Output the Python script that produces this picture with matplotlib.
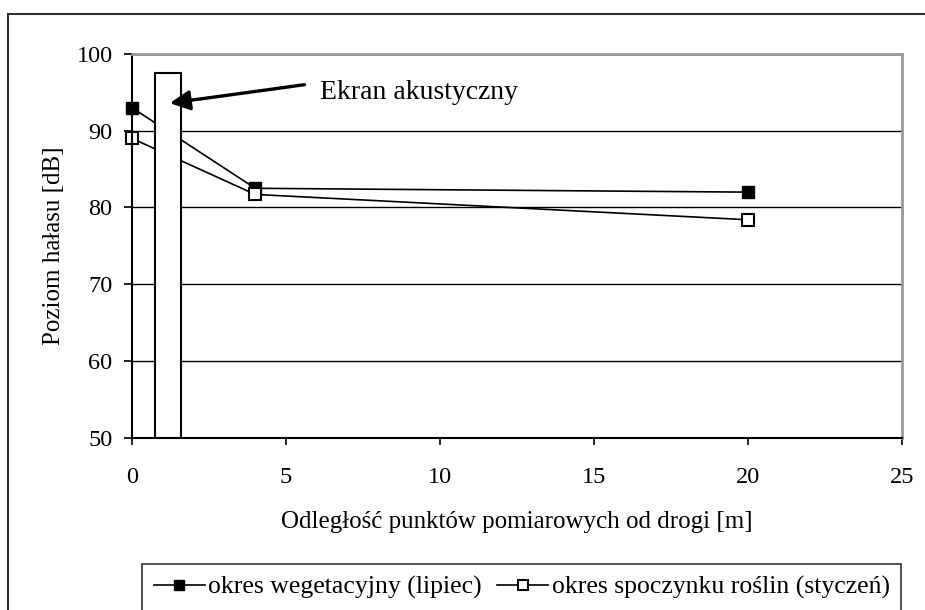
import matplotlib
matplotlib.use("Agg")
import matplotlib.pyplot as plt
from matplotlib.patches import Rectangle

plt.rcParams['font.family'] = ['Liberation Serif', 'DejaVu Serif']

x = [0, 4, 20]
wegetacyjny = [93, 82.5, 82]
spoczynek = [89, 81.7, 78.4]
series_labels = ["okres wegetacyjny (lipiec)", "okres spoczynku roślin (styczeń)"]
screen_x = [0.75, 1.6]
screen_top = 97.5
xticks = [0, 5, 10, 15, 20, 25]
yticks = [50, 60, 70, 80, 90, 100]

fig = plt.figure(figsize=(9.25, 6.1), dpi=100)
fig.patches.append(Rectangle((8/925, -0.5), 2, 0.5 + (610-14)/610, transform=fig.transFigure,
                             fill=False, edgecolor='#333333', linewidth=1.5, zorder=0))
ax = fig.add_axes([132/925, (610-437.7)/610, (902-132)/925, (437.7-54)/610])

l1, = ax.plot(x, wegetacyjny, color='black', lw=1.2, marker='s', markersize=9,
              markerfacecolor='black', markeredgecolor='black', zorder=2, clip_on=False)
l2, = ax.plot(x, spoczynek, color='black', lw=1.2, marker='s', markersize=9,
              markerfacecolor='white', markeredgecolor='black', markeredgewidth=1.5,
              zorder=2, clip_on=False)

ax.add_patch(Rectangle((screen_x[0], 50), screen_x[1]-screen_x[0], screen_top-50,
                       facecolor='white', edgecolor='black', lw=1.5, zorder=3))

ax.annotate("", xy=(1.23, 93.6), xytext=(5.6, 96.0),
            arrowprops=dict(arrowstyle='-|>,head_length=1.2,head_width=0.6', color='black', lw=2.4,
                            shrinkA=0, shrinkB=0, mutation_scale=10), zorder=4)
ax.text(6.1, 95.0, "Ekran akustyczny", fontsize=20, va='center', ha='left', zorder=4)

ax.set_xlim(0, 25)
ax.set_ylim(50, 100)
ax.set_xticks(xticks)
ax.set_yticks(yticks)
ax.tick_params(axis='both', labelsize=17.5, direction='out', length=6, width=1.2)
ax.tick_params(axis='x', length=5, pad=16)
ax.tick_params(axis='y', pad=8)
ax.grid(axis='y', color='black', lw=1)
ax.set_axisbelow(True)
for s in ['top', 'right']:
    ax.spines[s].set_color('#999999')
    ax.spines[s].set_linewidth(2)
for s in ['left', 'bottom']:
    ax.spines[s].set_color('black')
    ax.spines[s].set_linewidth(1.5)

ax.set_xlabel("Odległość punktów pomiarowych od drogi [m]", fontsize=18, labelpad=17)
ax.set_ylabel("Poziom hałasu [dB]", fontsize=18, labelpad=8)

leg = fig.legend([l1, l2], series_labels, loc='upper left', bbox_to_anchor=(142/925, (610-564)/610),
                 ncol=2, fontsize=18.5, frameon=True, fancybox=False, edgecolor='black',
                 handlelength=2.0, handletextpad=0.12, columnspacing=0.6, borderpad=0.45,
                 borderaxespad=0, markerscale=0.8)
leg.get_frame().set_linewidth(1.2)

fig.savefig("out.png", dpi=100)
